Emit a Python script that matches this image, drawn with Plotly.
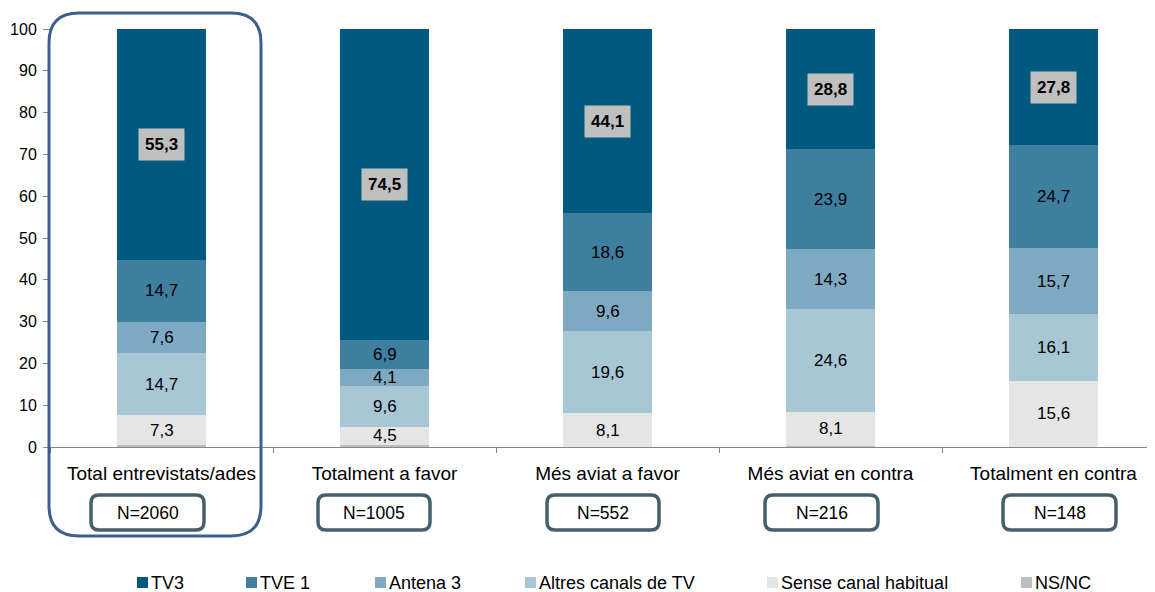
import plotly.graph_objects as go

categories = ["Total entrevistats/ades", "Totalment a favor", "Més aviat a favor",
              "Més aviat en contra", "Totalment en contra"]
sample_sizes = ["N=2060", "N=1005", "N=552", "N=216", "N=148"]

nsnc = [0.4, 0.4, 0.0, 0.3, 0.1]
sense = [7.3, 4.5, 8.1, 8.1, 15.6]
altres = [14.7, 9.6, 19.6, 24.6, 16.1]
antena3 = [7.6, 4.1, 9.6, 14.3, 15.7]
tve1 = [14.7, 6.9, 18.6, 23.9, 24.7]
tv3 = [55.3, 74.5, 44.1, 28.8, 27.8]

series = [
    ("NS/NC", nsnc, "#BEBEBE", False),
    ("Sense canal habitual", sense, "#E5E5E5", True),
    ("Altres canals de TV", altres, "#A8C7D4", True),
    ("Antena 3", antena3, "#7DAAC2", True),
    ("TVE 1", tve1, "#3E7FA0", True),
    ("TV3", tv3, "#02597F", True),
]

W, H = 1155, 592
OFF = 8  # page body margin offset
# screen positions of plot area
SL, ST, SB = 50, 29, 447
SR = 1155
ML = SL - OFF
MT = ST - OFF
MR = W - (SR - OFF)
MB = H - (SB - OFF)
PW = W - ML - MR
PH = H - MT - MB
FONT = "Liberation Sans, Arial"


def px(x):
    return (x - SL) / PW


def py(y):
    return (SB - y) / PH


def rounded_path(x0, y0, x1, y1, r):
    def P(x, y):
        return f"{px(x):.5f},{py(y):.5f}"
    d = f"M {P(x0 + r, y0)} L {P(x1 - r, y0)} Q {P(x1, y0)} {P(x1, y0 + r)} "
    d += f"L {P(x1, y1 - r)} Q {P(x1, y1)} {P(x1 - r, y1)} "
    d += f"L {P(x0 + r, y1)} Q {P(x0, y1)} {P(x0, y1 - r)} "
    d += f"L {P(x0, y0 + r)} Q {P(x0, y0)} {P(x0 + r, y0)} Z"
    return d


fig = go.Figure()
for name, vals, color, _ in series:
    fig.add_trace(go.Bar(
        x=categories, y=vals, name=name, width=0.4,
        marker=dict(color=color, line=dict(width=0)),
        showlegend=False, hoverinfo="skip",
    ))

annotations = []
shapes = []

# data labels
cum = [0.0] * len(categories)
for name, vals, color, labelled in series:
    for i, v in enumerate(vals):
        mid = cum[i] + v / 2
        cum[i] += v
        if not labelled or v <= 0:
            continue
        txt = f"{v:.1f}".replace(".", ",")
        if name == "TV3":
            annotations.append(dict(
                x=categories[i], y=mid, xref="x", yref="y", text=f"<b>{txt}</b>",
                showarrow=False, bgcolor="#BFBFBF", borderpad=6,
                xanchor="center", yanchor="middle",
                font=dict(family=FONT, size=17, color="#000000"),
            ))
        else:
            annotations.append(dict(
                x=categories[i], y=mid, xref="x", yref="y", text=txt,
                showarrow=False, xanchor="center", yanchor="middle",
                font=dict(family=FONT, size=17, color="#000000"),
            ))

# N boxes
box_x = [(91, 204), (318, 430), (547, 659), (765, 878), (1003, 1116)]
for (x0, x1), lab in zip(box_x, sample_sizes):
    shapes.append(dict(type="path", xref="paper", yref="paper",
                       path=rounded_path(x0, 495, x1, 530, 8),
                       line=dict(color="#455F6E", width=3.5), fillcolor="rgba(0,0,0,0)"))
    annotations.append(dict(x=px((x0 + x1) / 2), y=py(513), xref="paper", yref="paper",
                            text=lab, showarrow=False, xanchor="center", yanchor="middle",
                            font=dict(family=FONT, size=17.5, color="#000000")))

# highlight box around first category
shapes.append(dict(type="path", xref="paper", yref="paper",
                   path=rounded_path(49, 13, 261, 536, 30),
                   line=dict(color="#3D5F8E", width=3), fillcolor="rgba(0,0,0,0)"))

# legend (manual)
legend_x = [137, 246, 375, 525, 767, 1021]
legend_series = list(reversed(series))
for (name, vals, color, _), lx in zip(legend_series, legend_x):
    shapes.append(dict(type="rect", xref="paper", yref="paper",
                       x0=px(lx), x1=px(lx + 11), y0=py(577), y1=py(588),
                       line=dict(width=0), fillcolor=color))
    annotations.append(dict(x=px(lx + 12), y=py(582.5), xref="paper", yref="paper",
                            text=name, showarrow=False, xanchor="left", yanchor="middle",
                            font=dict(family=FONT, size=18, color="#000000")))

fig.update_layout(
    barmode="stack",
    width=W, height=H,
    margin=dict(l=ML, r=MR, t=MT, b=MB, autoexpand=False),
    plot_bgcolor="white", paper_bgcolor="white",
    showlegend=False,
    annotations=annotations,
    shapes=shapes,
    xaxis=dict(
        type="category", range=[-0.5, -0.5 + PW / 223.0],
        showline=True, linecolor="#868686", linewidth=1,
        ticks="outside", tickson="boundaries", ticklen=5, tickcolor="#868686",
        tickfont=dict(family=FONT, size=19, color="#000000"),
        ticklabelstandoff=9,
        showgrid=False, zeroline=False,
    ),
    yaxis=dict(
        range=[0, 100], dtick=10, showline=True, linecolor="#868686", linewidth=1,
        ticks="outside", ticklen=6, tickcolor="#868686",
        tickfont=dict(family=FONT, size=16, color="#000000"),
        ticklabelstandoff=3,
        showgrid=False, zeroline=False,
    ),
)

fig.write_html("out.html")
